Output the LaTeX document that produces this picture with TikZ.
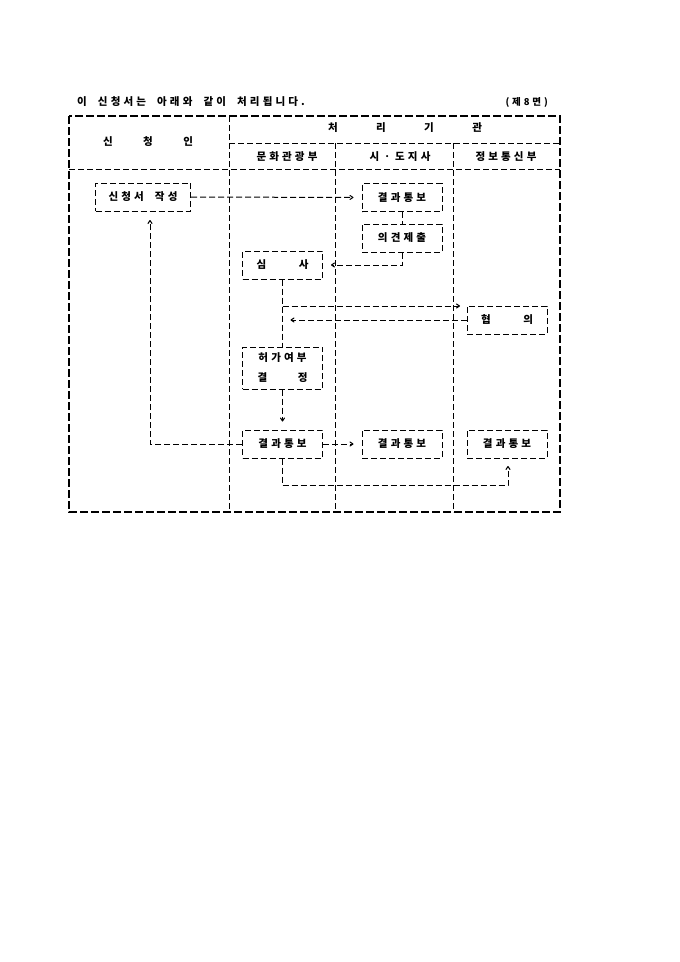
\documentclass[tikz,border=0pt]{standalone}
\usepackage{fontspec}
\setmainfont{Noto Sans CJK KR}[LetterSpace=30,WordSpace=2]
\usetikzlibrary{arrows.meta}
\begin{document}
\begin{tikzpicture}[x=1pt,y=-1pt,
  txt/.style={font=\fontsize{10.5}{20}\selectfont\bfseries, inner sep=0pt},
  box/.style={txt, draw, dash pattern=on 6pt off 3pt, line width=1pt, minimum width=80pt, minimum height=28pt, align=center},
  ln/.style={draw, dash pattern=on 6pt off 3pt, line width=1pt},
  arr/.style={ln, -{To[length=4pt,width=5pt]}, shorten >=8pt},
  frame/.style={draw, dash pattern=on 8pt off 3pt, line width=2pt},
  grid/.style={draw, dash pattern=on 6pt off 3pt, line width=1pt}
]
\useasboundingbox (0,0) rectangle (680,962);
\fill[white] (0,0) rectangle (680,962);

% title
\node[txt, anchor=west] (title) at (77,102) {이 신청서는 아래와 같이 처리됩니다.};
\node[txt, anchor=east, font=\fontsize{9.5}{12}\selectfont\bfseries] (page) at (548,102) {(제8면)};

% frame
\draw[frame] (69,116) rectangle (560,512);
\draw[grid] (229,116) -- (229,512);
\draw[grid] (229,143) -- (560,143);
\draw[grid] (335,143) -- (335,512);
\draw[grid] (453,143) -- (453,512);
\draw[grid] (69,169) -- (560,169);

% headers
\node[txt] (h1) at (148,142) {\makebox[90pt][s]{신\hfill 청\hfill 인}};
\node[txt] (h2) at (405,128) {\makebox[154pt][s]{처\hfill 리\hfill 기\hfill 관}};
\node[txt] (c1) at (287,157) {문화관광부};
\node[txt] (c2) at (400,157) {시ㆍ도지사};
\node[txt] (c3) at (506,157) {정보통신부};

% boxes
\node[box, minimum width=95pt] (apply) at (143,197) {신청서 작성};
\node[box] (r1) at (402,197.5) {결과통보};
\node[box] (op) at (402,238) {의견제출};
\node[box] (rev) at (282.5,265) {\makebox[52pt][s]{심\hfill 사}};
\node[box] (con) at (507,320) {\makebox[52pt][s]{협\hfill 의}};
\node[box, minimum height=42pt] (dec) at (282.5,368) {허가여부\\\makebox[50pt][s]{결\hfill 정}};
\node[box] (res1) at (282.5,444) {결과통보};
\node[box] (res2) at (402,444) {결과통보};
\node[box] (res3) at (507,444) {결과통보};

% connectors
\draw[arr] (apply.east) -- (r1.west);
\draw[ln] (r1.south) -- (op.north);
\draw[arr] (op.south) |- (rev.east);
\draw[ln] (rev.south) -- (dec.north);
\coordinate (b1) at (282.5,306);
\coordinate (b1e) at (468,306);
\draw[arr] (b1) -- (b1e);
\coordinate (b2) at (282.5,320);
\draw[arr] (con.west) -- (b2);
\draw[arr] (dec.south) -- (res1.north);
\draw[arr] (res1.east) -- (res2.west);
\coordinate (ua) at (150,212);
\draw[arr] (res1.west) -| (ua);
\coordinate (ub) at (508,458);
\draw[arr] (res1.south) -- ++(0,27) -| (ub);
\end{tikzpicture}
\end{document}
